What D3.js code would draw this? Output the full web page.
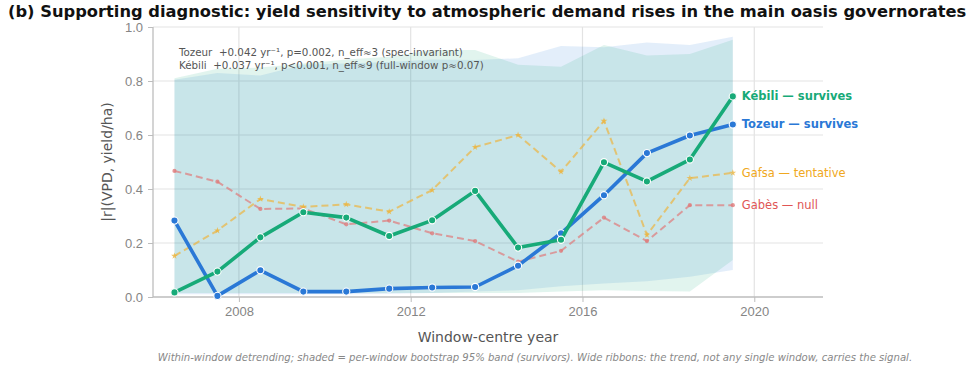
<!DOCTYPE html>
<html>
<head>
<meta charset="utf-8">
<script src="https://cdn.jsdelivr.net/npm/d3@7"></script>
<style>
  body { margin: 0; background: #fff; }
  svg { display: block; font-family: "DejaVu Sans", sans-serif; }
  .axis text { fill: #858585; font-size: 13px; }
  .axis path, .axis line { stroke: #bdbdbd; }
  .note { white-space: pre; }
</style>
</head>
<body>
<script>
// window centres and per-governorate |r|
var years = [2006.5, 2007.5, 2008.5, 2009.5, 2010.5, 2011.5, 2012.5, 2013.5, 2014.5, 2015.5, 2016.5, 2017.5, 2018.5, 2019.5];
var tozeur = [0.283, 0.004, 0.099, 0.020, 0.020, 0.031, 0.035, 0.037, 0.116, 0.236, 0.377, 0.533, 0.598, 0.639];
var kebili = [0.017, 0.094, 0.221, 0.314, 0.294, 0.226, 0.284, 0.393, 0.183, 0.212, 0.499, 0.428, 0.509, 0.743];
var gafsa = [0.152, 0.246, 0.363, 0.334, 0.343, 0.316, 0.396, 0.555, 0.600, 0.464, 0.652, 0.230, 0.440, 0.460];
var gabes = [0.467, 0.427, 0.326, 0.328, 0.269, 0.283, 0.236, 0.207, 0.131, 0.171, 0.294, 0.207, 0.340, 0.340];
// bootstrap 95% bands (survivors)
var tozeurLo = [0.010, 0.010, 0.010, 0.010, 0.010, 0.012, 0.015, 0.020, 0.025, 0.040, 0.050, 0.058, 0.075, 0.100];
var tozeurHi = [0.805, 0.830, 0.820, 0.860, 0.865, 0.870, 0.880, 0.878, 0.884, 0.930, 0.925, 0.943, 0.933, 0.964];
var kebiliLo = [0.015, 0.015, 0.015, 0.015, 0.015, 0.015, 0.015, 0.015, 0.015, 0.020, 0.025, 0.022, 0.020, 0.137];
var kebiliHi = [0.810, 0.845, 0.850, 0.865, 0.880, 0.890, 0.915, 0.915, 0.860, 0.853, 0.933, 0.894, 0.900, 0.953];
var yTicks = [0.0, 0.2, 0.4, 0.6, 0.8, 1.0];
var xTicks = [2008, 2012, 2016, 2020];
var notes = ["Tozeur  +0.042 yr\u207B\u00B9, p=0.002, n_eff\u22483 (spec-invariant)",
             "K\u00E9bili  +0.037 yr\u207B\u00B9, p<0.001, n_eff\u22489 (full-window p\u22480.07)"];

var width = 971;
var height = 368;
var margin = {top: 27, right: 148, bottom: 71, left: 153};
var innerWidth = width - margin.left - margin.right;
var innerHeight = height - margin.top - margin.bottom;

var svg = d3.select("body").append("svg")
            .attr("width", width)
            .attr("height", height);

var xScale = d3.scaleLinear().domain([2006, 2021.6]).range([margin.left, width - margin.right]);
var yScale = d3.scaleLinear().domain([0, 1]).range([height - margin.bottom, margin.top]);

// grid
svg.append("g").selectAll("line")
   .data(yTicks.slice(1))
   .enter().append("line")
   .attr("x1", margin.left).attr("x2", width - margin.right)
   .attr("y1", function(d) { return yScale(d); })
   .attr("y2", function(d) { return yScale(d); })
   .attr("stroke", "#e3e3e3").attr("stroke-width", 1.2);
svg.append("g").selectAll("line")
   .data(xTicks)
   .enter().append("line")
   .attr("x1", function(d) { return xScale(d); })
   .attr("x2", function(d) { return xScale(d); })
   .attr("y1", margin.top).attr("y2", height - margin.bottom)
   .attr("stroke", "#e3e3e3").attr("stroke-width", 1.2);

// bands
var band = function(lo, hi, color) {
    var area = d3.area()
                 .x(function(d, i) { return xScale(years[i]); })
                 .y0(function(d, i) { return yScale(lo[i]); })
                 .y1(function(d, i) { return yScale(hi[i]); });
    svg.append("path")
       .attr("d", area(years))
       .attr("fill", color)
       .attr("fill-opacity", 0.13);
};
band(tozeurLo, tozeurHi, "#2a78d6");
band(kebiliLo, kebiliHi, "#17aa78");

// axes
var xAxis = d3.axisBottom(xScale).tickValues(xTicks).tickFormat(d3.format("d")).tickSize(5).tickPadding(5);
svg.append("g")
   .attr("class", "axis")
   .attr("transform", "translate(0," + (height - margin.bottom) + ")")
   .call(xAxis)
   .call(function(g) { g.select(".domain").attr("d", "M" + margin.left + ",0H" + (width - margin.right)).attr("stroke-width", 1.3); });
var yAxis = d3.axisLeft(yScale).tickValues(yTicks).tickFormat(d3.format(".1f")).tickSize(5).tickPadding(5);
svg.append("g")
   .attr("class", "axis")
   .attr("transform", "translate(" + margin.left + ",0)")
   .call(yAxis)
   .call(function(g) { g.select(".domain").attr("d", "M0," + margin.top + "V" + (height - margin.bottom)).attr("stroke-width", 1.3); });

// series
var line = d3.line()
             .x(function(d, i) { return xScale(years[i]); })
             .y(function(d) { return yScale(d); });

var drawDashed = function(vals, color, marker) {
    svg.append("path")
       .attr("d", line(vals))
       .attr("fill", "none")
       .attr("stroke", color)
       .attr("stroke-opacity", 0.7)
       .attr("stroke-width", 2)
       .attr("stroke-dasharray", "7,4");
    svg.append("g").selectAll("path")
       .data(vals)
       .enter().append("path")
       .attr("transform", function(d, i) { return "translate(" + xScale(years[i]) + "," + yScale(d) + ")"; })
       .attr("d", d3.symbol().type(marker).size(14))
       .attr("fill", color)
       .attr("fill-opacity", 0.8);
};
drawDashed(gabes, "#df7a7a", d3.symbolCircle);
drawDashed(gafsa, "#ecb540", d3.symbolStar);

var drawSolid = function(vals, color) {
    svg.append("path")
       .attr("d", line(vals))
       .attr("fill", "none")
       .attr("stroke", color)
       .attr("stroke-width", 3.6)
       .attr("stroke-linejoin", "round");
    svg.append("g").selectAll("circle")
       .data(vals)
       .enter().append("circle")
       .attr("cx", function(d, i) { return xScale(years[i]); })
       .attr("cy", function(d) { return yScale(d); })
       .attr("r", 3.6)
       .attr("fill", color)
       .attr("stroke", "#fff")
       .attr("stroke-width", 1.1);
};
drawSolid(tozeur, "#2a78d6");
drawSolid(kebili, "#17aa78");

// end labels
var labels = [
    {text: "K\u00E9bili \u2014 survives", v: kebili, color: "#17aa78", bold: true},
    {text: "Tozeur \u2014 survives", v: tozeur, color: "#2a78d6", bold: true},
    {text: "Gafsa \u2014 tentative", v: gafsa, color: "#f0a820", bold: false},
    {text: "Gab\u00E8s \u2014 null", v: gabes, color: "#e05555", bold: false}
];
svg.append("g").selectAll("text")
   .data(labels)
   .enter().append("text")
   .attr("x", xScale(years[years.length - 1]) + 9)
   .attr("y", function(d) { return yScale(d.v[d.v.length - 1]); })
   .attr("dy", "0.35em")
   .attr("fill", function(d) { return d.color; })
   .style("font-size", "11.5px")
   .style("font-weight", function(d) { return d.bold ? "bold" : "normal"; })
   .text(function(d) { return d.text; });

// stats note
svg.append("g").selectAll("text")
   .data(notes)
   .enter().append("text")
   .attr("class", "note")
   .attr("x", 179)
   .attr("y", function(d, i) { return 56 + i * 13; })
   .attr("fill", "#555")
   .style("font-size", "10.3px")
   .text(function(d) { return d; });

// title, axis labels, footnote
svg.append("text")
   .attr("x", 8).attr("y", 17)
   .style("font-size", "16.3px").style("font-weight", "bold")
   .attr("fill", "#111")
   .text("(b) Supporting diagnostic: yield sensitivity to atmospheric demand rises in the main oasis governorates");
svg.append("text")
   .attr("transform", "translate(112," + (margin.top + innerHeight / 2) + ") rotate(-90)")
   .style("text-anchor", "middle").style("font-size", "14px")
   .attr("fill", "#555")
   .text("|r|(VPD, yield/ha)");
svg.append("text")
   .attr("x", margin.left + innerWidth / 2).attr("y", 342)
   .style("text-anchor", "middle").style("font-size", "14px")
   .attr("fill", "#555")
   .text("Window-centre year");
svg.append("text")
   .attr("x", 535).attr("y", 361)
   .style("text-anchor", "middle").style("font-size", "10.1px").style("font-style", "italic")
   .attr("fill", "#888")
   .text("Within-window detrending; shaded = per-window bootstrap 95% band (survivors). Wide ribbons: the trend, not any single window, carries the signal.");
</script>
</body>
</html>
